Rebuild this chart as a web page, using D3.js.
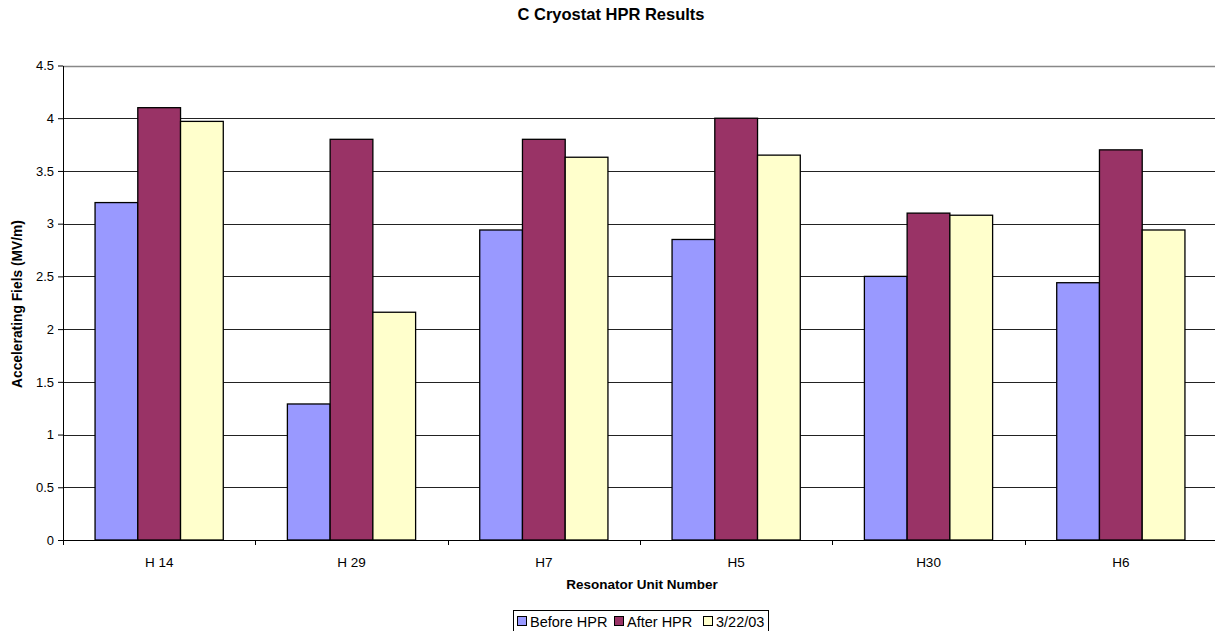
<!DOCTYPE html>
<html>
<head>
<meta charset="utf-8">
<script src="https://cdn.jsdelivr.net/npm/d3@7"></script>
<style>
  html, body { margin: 0; padding: 0; background: #fff; overflow: hidden; }
  svg { display: block; font-family: "Liberation Sans", Arial, sans-serif; }
</style>
</head>
<body>
<svg id="chart" width="1215" height="631"></svg>
<script>
// Resonator units and accelerating field readings (MV/m)
const categories = ["H 14", "H 29", "H7", "H5", "H30", "H6"];
const seriesNames = ["Before HPR", "After HPR", "3/22/03"];
const beforeHPR = [3.2, 1.29, 2.94, 2.85, 2.5, 2.44];
const afterHPR = [4.1, 3.8, 3.8, 4.0, 3.1, 3.7];
const run032203 = [3.97, 2.16, 3.63, 3.65, 3.08, 2.94];
const yTicks = [0, 0.5, 1, 1.5, 2, 2.5, 3, 3.5, 4, 4.5];
const colors = ["#9999FF", "#993366", "#FFFFCC"];

const series = [beforeHPR, afterHPR, run032203];

const svg = d3.select("#chart");
const plotLeft = 63, plotRight = 1217, plotTop = 65.5, plotBottom = 540;
const FONT = "Liberation Sans, Arial, sans-serif";

const x = d3.scaleBand().domain(categories).range([plotLeft, plotRight]).paddingInner(0).paddingOuter(0);
const y = d3.scaleLinear().domain([0, 4.5]).range([plotBottom, plotTop]);

// Excel-style gap: band = 3 bars + 1.5 bar widths of gap
const bw = x.bandwidth() / 4.5;
const inner = d3.scaleBand().domain(d3.range(3)).range([0.75 * bw, 3.75 * bw]).padding(0);

// Gridlines
svg.append("g")
  .selectAll("line")
  .data(yTicks.filter(t => t > 0))
  .join("line")
  .attr("x1", plotLeft).attr("x2", plotRight)
  .attr("y1", d => Math.round(y(d)) + 0.5).attr("y2", d => Math.round(y(d)) + 0.5)
  .attr("stroke", d => d === 4.5 ? "#888" : "#222")
  .attr("stroke-width", d => d === 4.5 ? 1.5 : 1);

// Bars
const groups = svg.append("g").selectAll("g")
  .data(series)
  .join("g")
  .attr("fill", (d, i) => colors[i]);

groups.selectAll("rect")
  .data((d, si) => d.map((v, ci) => ({ v, ci, si })))
  .join("rect")
  .attr("x", d => x(categories[d.ci]) + inner(d.si))
  .attr("y", d => y(d.v))
  .attr("width", inner.bandwidth())
  .attr("height", d => y(0) - y(d.v))
  .attr("stroke", "#000")
  .attr("stroke-width", 1.3);

// Y axis
const yAxis = d3.axisLeft(y).tickValues(yTicks).tickSize(5).tickSizeOuter(0)
  .tickFormat(d => String(d));
const gy = svg.append("g").attr("transform", `translate(${plotLeft},0)`).call(yAxis);
gy.select(".domain").attr("stroke", "#000");
gy.selectAll(".tick line").attr("stroke", "#000");
gy.selectAll(".tick text").attr("font-size", 13).attr("fill", "#000")
  .attr("font-family", FONT).attr("dx", -1);

// X axis
const xAxis = d3.axisBottom(x).tickSize(0).tickSizeOuter(0);
const gx = svg.append("g").attr("transform", `translate(0,${plotBottom})`).call(xAxis);
gx.select(".domain").attr("stroke", "#000");
gx.selectAll(".tick text").attr("font-size", 13.5).attr("fill", "#000")
  .attr("font-family", FONT).attr("y", 27).attr("dy", 0);
// Category separator ticks
svg.append("g").selectAll("line")
  .data(categories.map(c => x(c)).concat([plotRight]))
  .join("line")
  .attr("x1", d => Math.round(d) + 0.5).attr("x2", d => Math.round(d) + 0.5)
  .attr("y1", plotBottom).attr("y2", plotBottom + 5)
  .attr("stroke", "#000");

// Title
svg.append("text")
  .attr("x", 611).attr("y", 20)
  .attr("text-anchor", "middle")
  .attr("font-size", 16.5).attr("font-weight", "bold")
  .text("C Cryostat HPR Results");

// Axis titles
svg.append("text")
  .attr("x", 642).attr("y", 589)
  .attr("text-anchor", "middle")
  .attr("font-size", 13.5).attr("font-weight", "bold")
  .text("Resonator Unit Number");

svg.append("text")
  .attr("transform", "translate(22,304) rotate(-90)")
  .attr("text-anchor", "middle")
  .attr("font-size", 13.8).attr("font-weight", "bold")
  .text("Accelerating Fiels (MV/m)");

// Legend
const legend = svg.append("g");
legend.append("rect")
  .attr("x", 513.5).attr("y", 610.5).attr("width", 255).attr("height", 24)
  .attr("fill", "#fff").attr("stroke", "#000");
const legendX = [517, 614, 703];
seriesNames.forEach((name, i) => {
  legend.append("rect")
    .attr("x", legendX[i] + 0.5).attr("y", 616.5).attr("width", 9).attr("height", 9)
    .attr("fill", colors[i]).attr("stroke", "#000");
  legend.append("text")
    .attr("x", legendX[i] + 13).attr("y", 627)
    .attr("font-size", 14.5)
    .text(name);
});
</script>
</body>
</html>
